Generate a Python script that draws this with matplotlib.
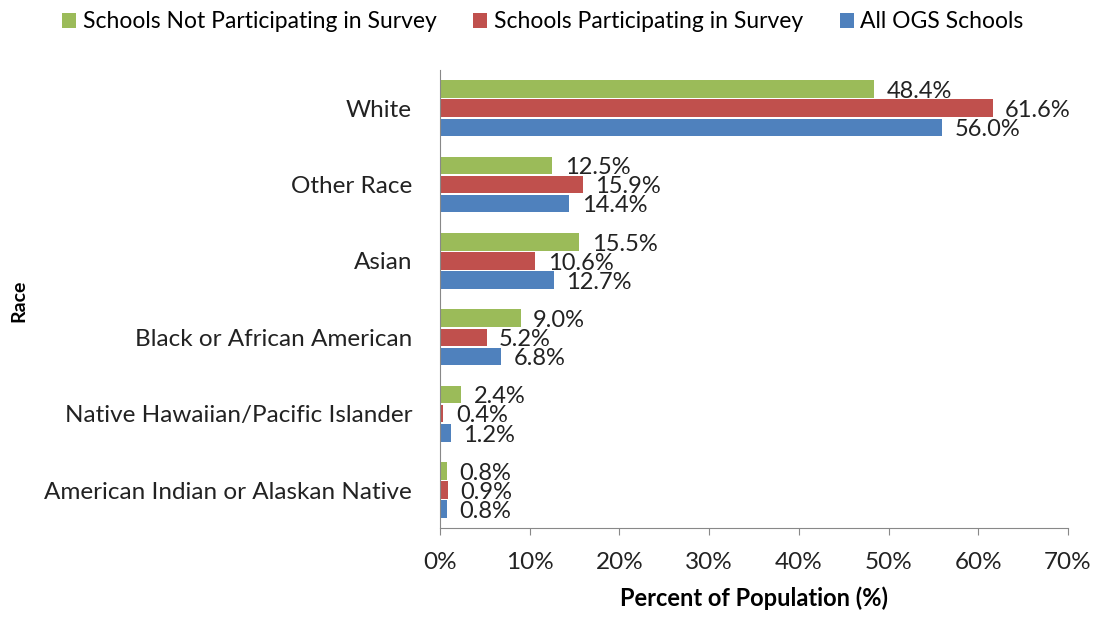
import matplotlib.pyplot as plt
import numpy as np
from matplotlib.ticker import FuncFormatter

plt.rcParams['font.family'] = ['Lato', 'DejaVu Sans']

races = ['White', 'Other Race', 'Asian', 'Black or African American',
         'Native Hawaiian/Pacific Islander', 'American Indian or Alaskan Native']
not_participating = [48.4, 12.5, 15.5, 9.0, 2.4, 0.8]
participating = [61.6, 15.9, 10.6, 5.2, 0.4, 0.9]
all_ogs = [56.0, 14.4, 12.7, 6.8, 1.2, 0.8]

series = [
    ('Schools Not Participating in Survey', not_participating, '#9BBB59'),
    ('Schools Participating in Survey', participating, '#C0504D'),
    ('All OGS Schools', all_ogs, '#4F81BD'),
]

fig = plt.figure(figsize=(10.97, 6.2), dpi=100)
ax = fig.add_axes([0.401, 0.148, 0.5726, 0.739])

y = np.arange(len(races))[::-1].astype(float)
h = 0.23
offsets = [h + 0.02, 0, -(h + 0.02)]

for (name, vals, col), off in zip(series, offsets):
    bars = ax.barh(y + off, vals, height=h, color=col, label=name)
    for b, v in zip(bars, vals):
        ax.text(v + 1.4, b.get_y() + b.get_height() / 2 - 0.03, '%.1f%%' % v,
                ha='left', va='center', fontsize=17, color='#222222')

ax.set_xlim(0, 70)
ax.set_ylim(-0.5, len(races) - 0.5)
ax.set_xticks(np.arange(0, 71, 10))
ax.xaxis.set_major_formatter(FuncFormatter(lambda v, p: '%d%%' % v))
ax.set_yticks(y)
ax.set_yticklabels(races)
ax.tick_params(axis='y', length=0, pad=20, labelsize=17.5, colors='#222222')
ax.tick_params(axis='x', length=5, pad=12, labelsize=17.5, colors='#222222', color='#888888')

for s in ['top', 'right']:
    ax.spines[s].set_visible(False)
ax.spines['left'].set_color('#888888')
ax.spines['bottom'].set_color('#888888')

ax.set_xlabel('Percent of Population (%)', fontsize=17, fontweight='bold', labelpad=10)
fig.text(0.017, 0.515, 'Race', rotation=90, fontsize=14, fontweight='bold', va='center', ha='center')

fig.legend(loc='upper left', bbox_to_anchor=(0.038, 1.015), ncol=3, frameon=False,
           fontsize=16.5, handlelength=0.6, handleheight=0.6, handletextpad=0.3,
           columnspacing=1.6)

fig.savefig('out.png', dpi=100)
